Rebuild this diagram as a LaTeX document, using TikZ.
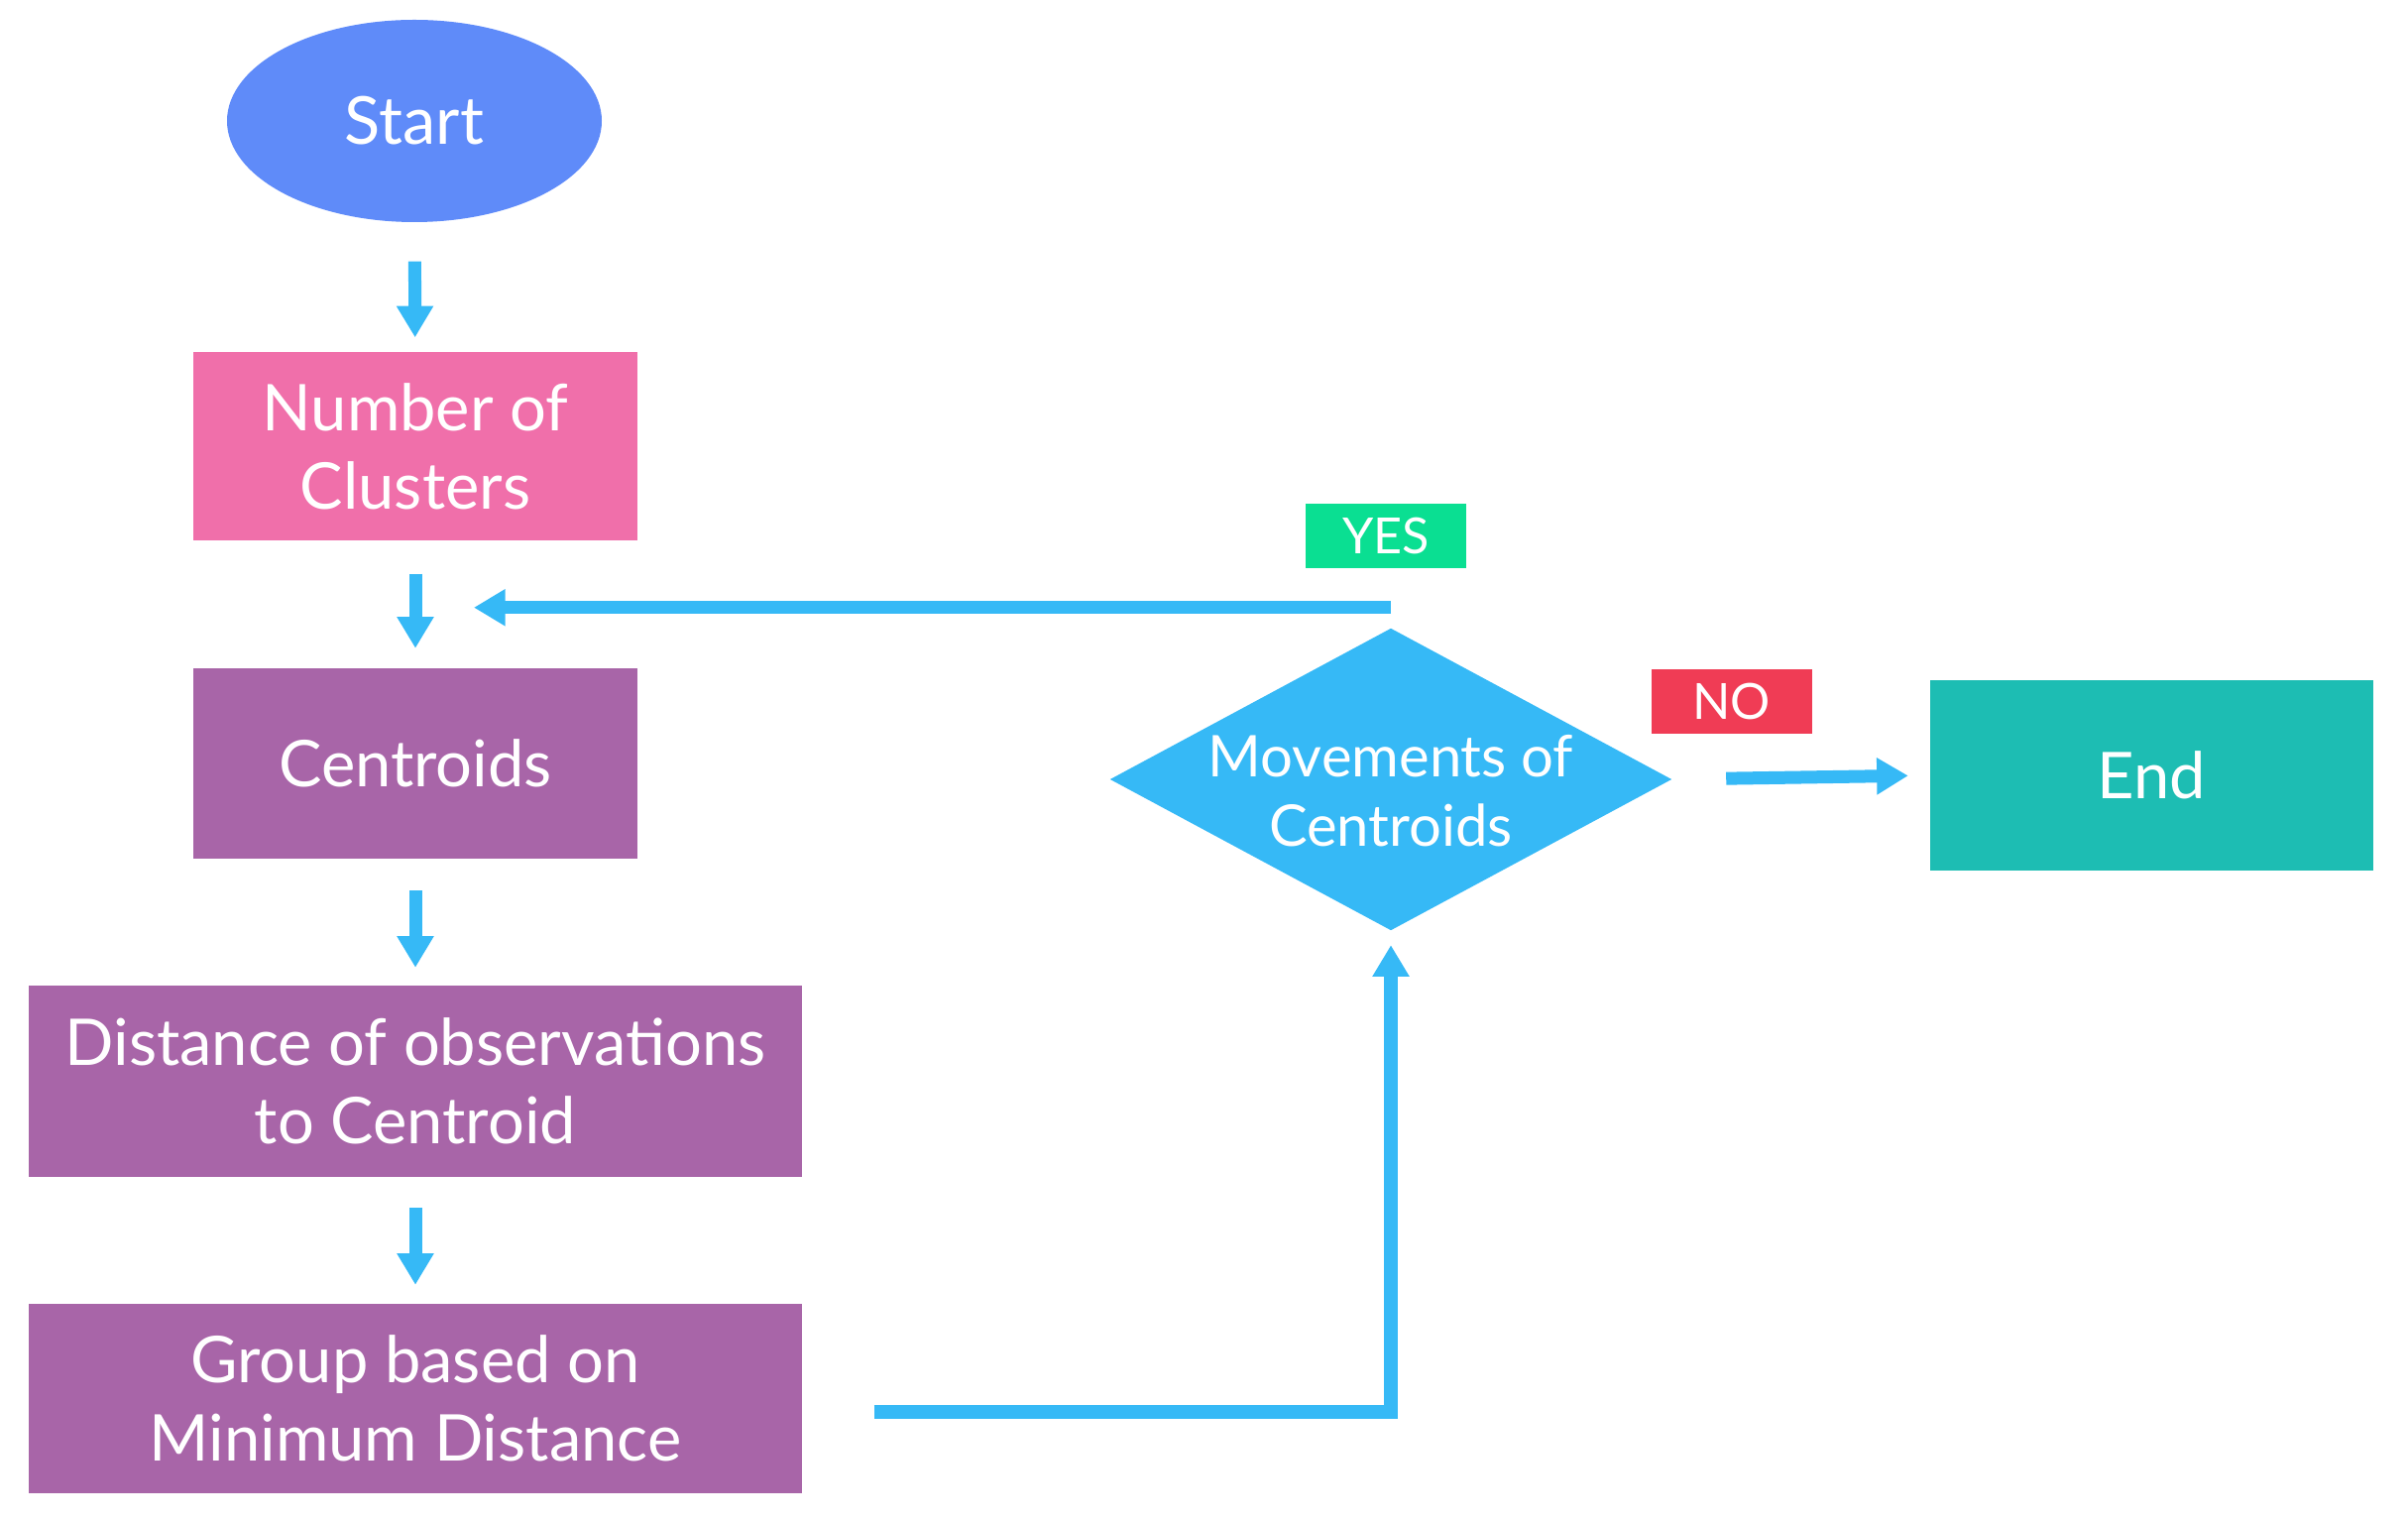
\documentclass[tikz,border=0pt]{standalone}
\usepackage{fontspec}
\setmainfont{Lato}
\usepackage{tikz}
\usetikzlibrary{arrows.meta,shapes.geometric,positioning,calc}
\definecolor{startblue}{HTML}{5F8BF9}
\definecolor{boxpink}{HTML}{F06FAA}
\definecolor{boxpurple}{HTML}{A865A8}
\definecolor{arrowblue}{HTML}{36B9F6}
\definecolor{yesgreen}{HTML}{0ADF92}
\definecolor{nored}{HTML}{F03C55}
\definecolor{endteal}{HTML}{1DBDB3}

\tikzset{
  stepbox/.style={rectangle, fill=#1, text=white, align=center, inner sep=0pt,
    font=\fontsize{18.5}{22.5}\selectfont},
  flow/.style={draw=arrowblue, line width=3.7pt, -{Triangle[width=10pt,length=9pt]}},
  tag/.style={rectangle, fill=#1, text=white, inner sep=0pt,
    minimum width=1.62cm, minimum height=0.65cm, font=\fontsize{14.3}{16}\selectfont}
}

\begin{document}
\begin{tikzpicture}
                \useasboundingbox (0,0) rectangle (24.29,-15.34);

                % left column
                \node[ellipse, fill=startblue, text=white, inner sep=0pt,
                      minimum width=3.78cm, minimum height=2.04cm,
                      font=\fontsize{19}{22}\selectfont] (start) at (4.18,-1.22) {Start};
                \node[stepbox=boxpink, minimum width=4.48cm, minimum height=1.90cm] (clusters) at (4.19,-4.50) {Number of\\Clusters};
                \node[stepbox=boxpurple, minimum width=4.48cm, minimum height=1.91cm] (cent) at (4.19,-7.70) {Centroids};
                \node[stepbox=boxpurple, minimum width=7.80cm, minimum height=1.93cm] (dist) at (4.19,-10.90) {Distance of observations\\to Centroid};
                \node[stepbox=boxpurple, minimum width=7.80cm, minimum height=1.91cm] (group) at (4.19,-14.10) {Group based on\\Minimum Distance};

                % decision and end
                \node[diamond, fill=arrowblue, inner sep=0pt, aspect=1.86,
                      minimum width=5.67cm, minimum height=3.05cm] (move) at (14.03,-7.86) {};
                \node[text=white, align=center, font=\fontsize{16.5}{20}\selectfont] (movetext) at ([yshift=-0.12cm]move.center) {Movements of\\Centroids};
                \node[stepbox=endteal, minimum width=4.47cm, minimum height=1.92cm] (endnode) at (21.70,-7.82) {End};

                \node[tag=yesgreen] (yes) at (13.98,-5.405) {YES};
                \node[tag=nored] (no) at (17.465,-7.07) {NO};

                % connectors
                \draw[flow, shorten <=0.39cm, shorten >=0.14cm] (start) -- (clusters);
                \draw[flow, shorten <=0.33cm, shorten >=0.20cm] (clusters) -- (cent);
                \draw[flow, shorten <=0.32cm, shorten >=0.17cm] (cent) -- (dist);
                \draw[flow, shorten <=0.31cm, shorten >=0.18cm] (dist) -- (group);

                \coordinate (loopin) at ($(clusters.south)!0.5!(cent.north)+(0,-0.03)$);
                \draw[flow] (move.north |- loopin) -- ([xshift=0.59cm]loopin);
                \draw[flow, line width=3.9pt] ([xshift=0.72cm,yshift=-0.14cm]group.east) -| ([yshift=-0.14cm]move.south);
                \draw[flow, shorten <=0.54cm, shorten >=0.21cm] (move.east) -- (endnode.west);
\end{tikzpicture}
\end{document}
